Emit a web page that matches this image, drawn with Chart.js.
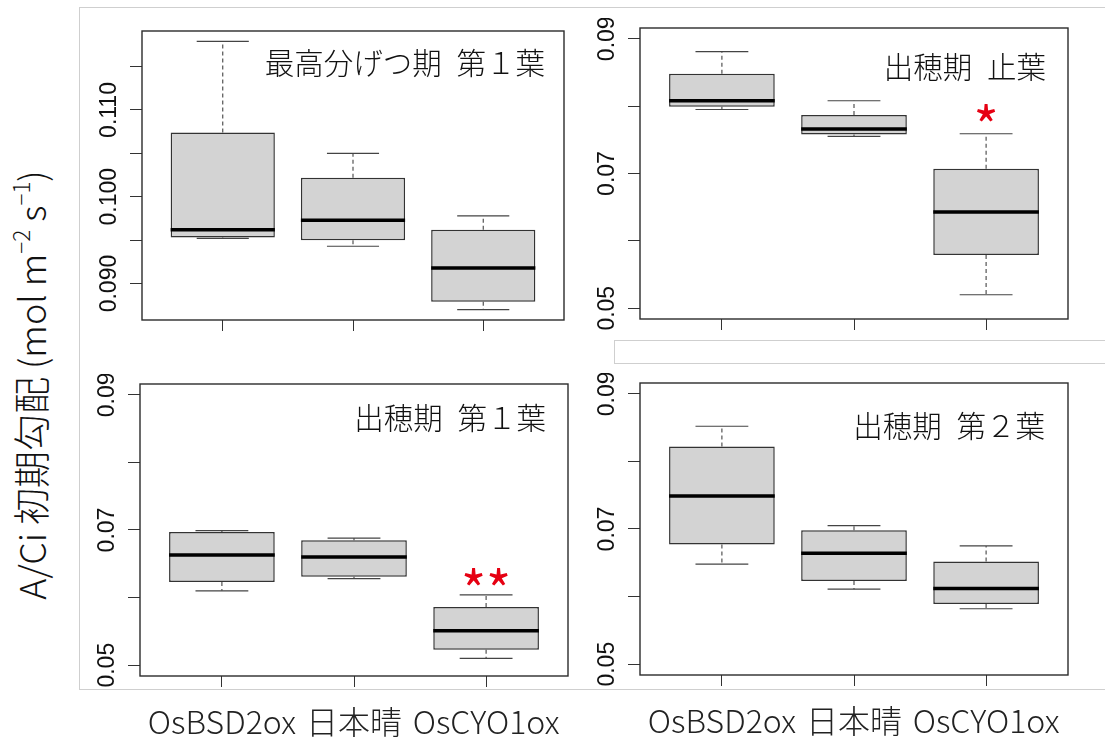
<!DOCTYPE html>
<html lang="ja">
<head>
<meta charset="UTF-8">
<script src="https://cdn.jsdelivr.net/npm/chart.js"></script>
<title>A/Ci 初期勾配</title>
<style>
  body { margin: 0; background: #fff; width: 1105px; height: 742px; position: relative; overflow: hidden; font-family: "Noto Sans CJK JP", sans-serif; }
  canvas { position: absolute; }
  .ln { position: absolute; border: 0 solid #cfcfcf; }
  #ytitle { position: absolute; left: 30px; top: 385px; transform: translate(-50%, -50%) rotate(-90deg); white-space: nowrap; font-size: 36px; font-weight: 300; color: #111; }
  #ytitle .cjk { font-size: 37px; }
  #ytitle sup { font-size: 0.62em; vertical-align: 0.7em; }
</style>
</head>
<body>
  <!-- 元画像の切り抜き枠の薄い線 -->
  <div class="ln" style="left:79px;top:7px;width:1026px;border-top-width:1px"></div>
  <div class="ln" style="left:79px;top:7px;height:683px;border-left-width:1px"></div>
  <div class="ln" style="left:79px;top:689px;width:1026px;border-top-width:1px"></div>
  <div class="ln" style="left:614px;top:340px;width:491px;height:22px;border-width:1px 0 1px 1px"></div>

  <div id="ytitle">A/Ci <span class="cjk">初期勾配</span> (mol m<sup>−2</sup> s<sup>−1</sup>)</div>

  <canvas id="p1"></canvas>
  <canvas id="p2"></canvas>
  <canvas id="p3"></canvas>
  <canvas id="p4"></canvas>

<script>
  const groups = ['OsBSD2ox', '日本晴', 'OsCYO1ox'];

  // 最高分げつ期 第１葉
  const tillerMin = [0.0952, 0.0943, 0.0870];
  const tillerQ1  = [0.0953, 0.0950, 0.0879];
  const tillerMed = [0.0962, 0.0973, 0.0918];
  const tillerQ3  = [0.1074, 0.1022, 0.0962];
  const tillerMax = [0.1179, 0.1050, 0.0978];

  // 出穂期 止葉
  const flagMin = [0.0795, 0.0755, 0.0520];
  const flagQ1  = [0.0799, 0.0758, 0.0579];
  const flagMed = [0.0808, 0.0766, 0.0643];
  const flagQ3  = [0.0848, 0.0787, 0.0707];
  const flagMax = [0.0881, 0.0808, 0.0759];
  const flagSig  = ['', '', '*'];
  const flagSigY = [null, null, 0.0790];

  // 出穂期 第１葉
  const leaf1Min = [0.0610, 0.0628, 0.0510];
  const leaf1Q1  = [0.0623, 0.0631, 0.0523];
  const leaf1Med = [0.0663, 0.0660, 0.0551];
  const leaf1Q3  = [0.0697, 0.0685, 0.0586];
  const leaf1Max = [0.0699, 0.0688, 0.0604];
  const leaf1Sig  = ['', '', '**'];
  const leaf1SigY = [null, null, 0.0631];

  // 出穂期 第２葉
  const leaf2Min = [0.0648, 0.0611, 0.0582];
  const leaf2Q1  = [0.0677, 0.0623, 0.0589];
  const leaf2Med = [0.0749, 0.0664, 0.0612];
  const leaf2Q3  = [0.0822, 0.0698, 0.0652];
  const leaf2Max = [0.0852, 0.0705, 0.0675];

  // 目盛
  const tillerTicks = [0.090, 0.095, 0.100, 0.105, 0.110, 0.115];
  const tillerTickLabels = ['0.090', '', '0.100', '', '0.110', ''];
  const headTicks = [0.05, 0.06, 0.07, 0.08, 0.09];
  const headTickLabels = ['0.05', '', '0.07', '', '0.09'];

  // 文字の見た目の中心を (x, y) に合わせて描く
  function centerText(ctx, txt, x, y) {
    const m = ctx.measureText(txt);
    ctx.textBaseline = 'alphabetic';
    ctx.fillText(txt, x, y + (m.actualBoundingBoxAscent - m.actualBoundingBoxDescent) / 2);
  }

  // 枠・縦書きの目盛ラベル・パネル名・有意差記号
  const panelDeco = {
    id: 'panelDeco',
    afterDatasetsDraw(chart, args, opts) {
      const { ctx, chartArea: a, scales: { x, y } } = chart;
      ctx.save();
      ctx.strokeStyle = '#2b2b2b';
      ctx.lineWidth = 1.4;
      ctx.strokeRect(a.left, a.top, a.right - a.left, a.bottom - a.top);

      ctx.fillStyle = '#111';
      ctx.font = '23px "Liberation Sans", Arial, sans-serif';
      ctx.textAlign = 'center';
      y.ticks.forEach(t => {
        if (!t.label) return;
        ctx.save();
        ctx.translate(a.left - 35, y.getPixelForValue(t.value));
        ctx.rotate(-Math.PI / 2);
        centerText(ctx, t.label, 0, 0);
        ctx.restore();
      });

      ctx.font = '300 29.5px "Noto Sans CJK JP"';
      ctx.textAlign = 'right';
      centerText(ctx, opts.title, a.right - opts.titleDx, a.top + opts.titleDy);

      if (opts.sig) {
        ctx.fillStyle = '#e60012';
        ctx.font = '54px "Noto Sans CJK JP"';
        ctx.textAlign = 'center';
        opts.sig.forEach((s, i) => {
          if (!s) return;
          centerText(ctx, s, x.getPixelForValue(i + 1), y.getPixelForValue(opts.sigY[i]));
        });
      }
      ctx.restore();
    }
  };

  function boxDatasets(mn, q1, md, q3, mx) {
    const whisk = [], caps = [], meds = [];
    groups.forEach((g, i) => {
      const c = i + 1;
      whisk.push({ x: c, y: q3[i] }, { x: c, y: mx[i] }, { x: c, y: null },
                 { x: c, y: q1[i] }, { x: c, y: mn[i] }, { x: c, y: null });
      caps.push({ x: c - 0.2, y: mx[i] }, { x: c + 0.2, y: mx[i] }, { x: c, y: null },
                { x: c - 0.2, y: mn[i] }, { x: c + 0.2, y: mn[i] }, { x: c, y: null });
      meds.push({ x: c - 0.4, y: md[i] }, { x: c + 0.4, y: md[i] }, { x: c, y: null });
    });
    const lineBase = { type: 'line', pointRadius: 0, fill: false, tension: 0, spanGaps: false };
    return [
      { ...lineBase, data: meds, borderColor: '#000', borderWidth: 3.5, order: 0 },
      {
        type: 'bar',
        data: groups.map((g, i) => ({ x: i + 1, y: [q1[i], q3[i]] })),
        backgroundColor: '#d3d3d3',
        borderColor: '#333',
        borderWidth: 1.5,
        borderSkipped: false,
        barPercentage: 0.8,
        categoryPercentage: 1,
        order: 1
      },
      { ...lineBase, data: whisk, borderColor: '#444', borderWidth: 1.1, borderDash: [4, 3], order: 2 },
      { ...lineBase, data: caps, borderColor: '#444', borderWidth: 1.2, order: 2 }
    ];
  }

  // L,T,R,B はプロット枠の位置
  function panel(id, box, stats, ticks, tickLabels, yMin, yMax, deco, showX) {
    const yW = 62, padTop = 10, padRight = 12;
    const xH = showX ? 62 : 14;
    const cv = document.getElementById(id);
    const left = box.L - yW, top = box.T - padTop;
    cv.width = box.R - left + padRight;
    cv.height = box.B - top + xH;
    cv.style.left = left + 'px';
    cv.style.top = top + 'px';

    return new Chart(cv, {
      type: 'bar',
      data: { datasets: boxDatasets(...stats) },
      options: {
        responsive: false,
        animation: false,
        layout: { padding: { top: padTop, right: padRight, left: 0, bottom: 0 } },
        plugins: { legend: { display: false }, tooltip: { enabled: false }, panelDeco: deco },
        scales: {
          x: {
            type: 'linear',
            offset: false,
            min: 0.38,
            max: 3.62,
            afterBuildTicks: s => { s.ticks = groups.map((g, i) => ({ value: i + 1 })); },
            afterFit: s => { s.height = xH; },
            ticks: {
              display: showX,
              autoSkip: false,
              maxRotation: 0,
              padding: 16,
              color: '#222',
              font: { family: '"Noto Sans CJK JP"', size: 32, weight: '300' },
              callback: v => groups[v - 1]
            },
            grid: { offset: false, drawOnChartArea: false, tickLength: 11, color: '#333', lineWidth: 1 },
            border: { display: false }
          },
          y: {
            min: yMin,
            max: yMax,
            afterBuildTicks: s => { s.ticks = ticks.map(v => ({ value: v })); },
            afterFit: s => { s.width = yW; },
            ticks: { display: false, autoSkip: false, callback: (v, i) => tickLabels[i] },
            grid: { drawOnChartArea: false, tickLength: 12, color: '#333', lineWidth: 1 },
            border: { display: false }
          }
        }
      },
      plugins: [panelDeco]
    });
  }

  panel('p1', { L: 142, T: 31, R: 564, B: 320 },
    [tillerMin, tillerQ1, tillerMed, tillerQ3, tillerMax],
    tillerTicks, tillerTickLabels, 0.0858, 0.1191,
    { title: '最高分げつ期\u2002第１葉', titleDx: 19, titleDy: 32 }, false);

  panel('p2', { L: 640, T: 28, R: 1068, B: 319 },
    [flagMin, flagQ1, flagMed, flagQ3, flagMax],
    headTicks, headTickLabels, 0.0484, 0.0916,
    { title: '出穂期\u2002止葉', titleDx: 22, titleDy: 39, sig: flagSig, sigY: flagSigY }, false);

  panel('p3', { L: 140, T: 384, R: 568, B: 676 },
    [leaf1Min, leaf1Q1, leaf1Med, leaf1Q3, leaf1Max],
    headTicks, headTickLabels, 0.0484, 0.0916,
    { title: '出穂期\u2002第１葉', titleDx: 22, titleDy: 34, sig: leaf1Sig, sigY: leaf1SigY }, true);

  panel('p4', { L: 640, T: 383, R: 1068, B: 675 },
    [leaf2Min, leaf2Q1, leaf2Med, leaf2Q3, leaf2Max],
    headTicks, headTickLabels, 0.0484, 0.0916,
    { title: '出穂期\u2002第２葉', titleDx: 23, titleDy: 43 }, true);
</script>
</body>
</html>
